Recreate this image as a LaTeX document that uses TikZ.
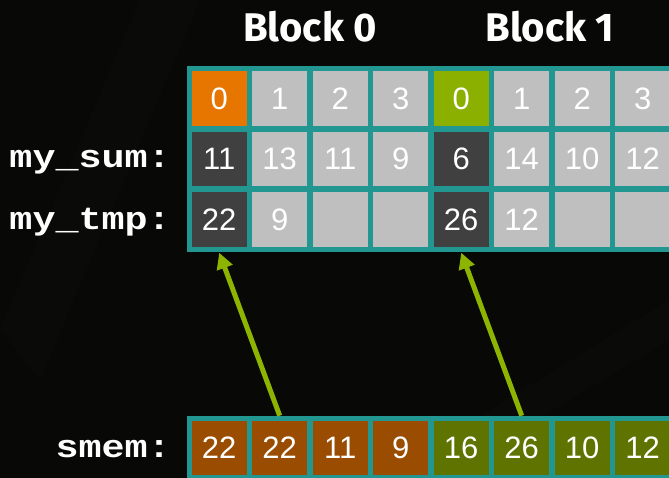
\documentclass[tikz,border=0pt]{standalone}
\usepackage{fontspec}
\setmainfont{Liberation Sans}
\newfontfamily\blockfont{Fira Sans}
\newfontfamily\codefont{Liberation Mono}
\usetikzlibrary{arrows.meta}
\definecolor{bgc}{RGB}{8,8,6}
\definecolor{tealc}{RGB}{34,150,145}
\definecolor{grayc}{RGB}{191,191,191}
\definecolor{darkc}{RGB}{64,64,64}
\definecolor{orangec}{RGB}{230,118,0}
\definecolor{limec}{RGB}{140,176,0}
\definecolor{brownc}{RGB}{154,76,0}
\definecolor{olivec}{RGB}{94,115,0}
\definecolor{arrowc}{RGB}{140,180,0}
\tikzset{
  cellbox/.style={draw=none,inner sep=0pt,minimum width=55pt,minimum height=54.6pt,
    text=white,font=\fontsize{31}{34}\selectfont},
  framebox/.style={fill=tealc,draw=none,inner sep=0pt,anchor=north west},
  codelabel/.style={anchor=base east,text=white,inner sep=0pt,
    font=\codefont\bfseries\fontsize{32}{34}\selectfont},
  blocklabel/.style={anchor=base,text=white,inner sep=0pt,
    font=\blockfont\bfseries\fontsize{40}{44}\selectfont},
  linkarrow/.style={draw=arrowc,line width=5pt,-{Triangle[length=16pt,width=16pt]}}
}
\begin{document}
\begin{tikzpicture}[x=1pt,y=-1pt]
\useasboundingbox (0,0) rectangle (669,478);
\clip (0,0) rectangle (669,478);
\fill[bgc] (0,0) rectangle (669,478);
% faint background streaks
\fill[white,opacity=0.012] (0,330) -- (140,0) -- (200,0) -- (40,380) -- cycle;
\fill[white,opacity=0.01] (380,478) -- (669,300) -- (669,340) -- (440,478) -- cycle;

% frames
\node[framebox,minimum width=503pt,minimum height=186.3pt] (topbox) at (186.5,66) {};
\node[framebox,minimum width=503pt,minimum height=70pt] (botbox) at (186.5,415.7) {};

% row 1: thread indices
\node[cellbox,fill=orangec] (i0) at (219.2,98.4) {0};
\node[cellbox,fill=grayc]   (i1) at (279.7,98.4) {1};
\node[cellbox,fill=grayc]   (i2) at (340.2,98.4) {2};
\node[cellbox,fill=grayc]   (i3) at (400.7,98.4) {3};
\node[cellbox,fill=limec]   (i4) at (461.2,98.4) {0};
\node[cellbox,fill=grayc]   (i5) at (521.7,98.4) {1};
\node[cellbox,fill=grayc]   (i6) at (582.2,98.4) {2};
\node[cellbox,fill=grayc]   (i7) at (642.7,98.4) {3};
% row 2: my_sum
\node[cellbox,fill=darkc] (m0) at (219.2,159) {11};
\node[cellbox,fill=grayc] (m1) at (279.7,159) {13};
\node[cellbox,fill=grayc] (m2) at (340.2,159) {11};
\node[cellbox,fill=grayc] (m3) at (400.7,159) {9};
\node[cellbox,fill=darkc] (m4) at (461.2,159) {6};
\node[cellbox,fill=grayc] (m5) at (521.7,159) {14};
\node[cellbox,fill=grayc] (m6) at (582.2,159) {10};
\node[cellbox,fill=grayc] (m7) at (642.7,159) {12};
% row 3: my_tmp
\node[cellbox,fill=darkc] (t0) at (219.2,219.6) {22};
\node[cellbox,fill=grayc] (t1) at (279.7,219.6) {9};
\node[cellbox,fill=grayc] (t2) at (340.2,219.6) {};
\node[cellbox,fill=grayc] (t3) at (400.7,219.6) {};
\node[cellbox,fill=darkc] (t4) at (461.2,219.6) {26};
\node[cellbox,fill=grayc] (t5) at (521.7,219.6) {12};
\node[cellbox,fill=grayc] (t6) at (582.2,219.6) {};
\node[cellbox,fill=grayc] (t7) at (642.7,219.6) {};
% smem row
\node[cellbox,fill=brownc] (s0) at (219.2,447.9) {22};
\node[cellbox,fill=brownc] (s1) at (279.7,447.9) {22};
\node[cellbox,fill=brownc] (s2) at (340.2,447.9) {11};
\node[cellbox,fill=brownc] (s3) at (400.7,447.9) {9};
\node[cellbox,fill=olivec] (s4) at (461.2,447.9) {16};
\node[cellbox,fill=olivec] (s5) at (521.7,447.9) {26};
\node[cellbox,fill=olivec] (s6) at (582.2,447.9) {10};
\node[cellbox,fill=olivec] (s7) at (642.7,447.9) {12};

% labels
\node[blocklabel] (b0) at (310,42) {Block 0};
\node[blocklabel] (b1) at (550,42) {Block 1};
\node[codelabel] (lsum) at (171,168) {\scalebox{1.2}[1]{my\_sum:}};
\node[codelabel] (ltmp) at (171,230) {\scalebox{1.2}[1]{my\_tmp:}};
\node[codelabel] (lsmem) at (171,457) {\scalebox{1.2}[1]{smem:}};

% arrows
\coordinate (a1s) at (s1.north |- botbox.north);
\coordinate (a1e) at (t0.south |- topbox.south);
\coordinate (a2s) at (s5.north |- botbox.north);
\coordinate (a2e) at (t4.south |- topbox.south);
\draw[linkarrow] (a1s) -- (a1e);
\draw[linkarrow] (a2s) -- (a2e);
\end{tikzpicture}
\end{document}
